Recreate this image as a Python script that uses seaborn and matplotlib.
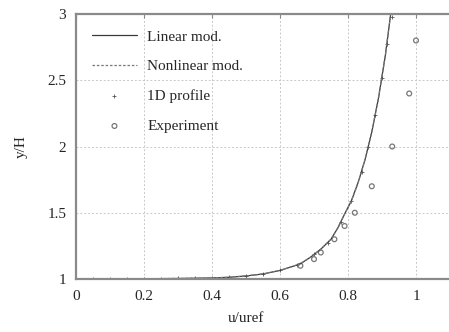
import matplotlib
matplotlib.use("Agg")
import matplotlib.pyplot as plt
import seaborn as sns
import pandas as pd

# Model velocity profile (u/uref against y/H)
model_u = [0.0, 0.1, 0.2, 0.3, 0.4, 0.45, 0.5, 0.55, 0.6, 0.63, 0.66, 0.69,
           0.72, 0.75, 0.77, 0.79, 0.81, 0.83, 0.85, 0.87, 0.89, 0.91, 0.93]
model_y = [1.0, 1.001, 1.002, 1.004, 1.008, 1.013, 1.023, 1.038, 1.065, 1.089,
           1.115, 1.165, 1.225, 1.3, 1.385, 1.49, 1.59, 1.73, 1.9, 2.11, 2.37,
           2.69, 3.09]

# 1D profile samples
prof_u = [0.0, 0.05, 0.1, 0.15, 0.2, 0.25, 0.3, 0.35, 0.4, 0.45, 0.5, 0.55,
          0.6, 0.65, 0.7, 0.74, 0.78, 0.81, 0.84, 0.86, 0.88, 0.9, 0.915, 0.928]
prof_y = [1.0, 1.0, 1.001, 1.001, 1.002, 1.003, 1.004, 1.006, 1.008, 1.013,
          1.023, 1.038, 1.065, 1.105, 1.185, 1.27, 1.43, 1.59, 1.81, 2.0,
          2.24, 2.52, 2.77, 2.98]

# Measurements
exp_u = [0.66, 0.70, 0.72, 0.76, 0.79, 0.82, 0.87, 0.93, 0.98, 1.0]
exp_y = [1.1, 1.15, 1.2, 1.3, 1.4, 1.5, 1.7, 2.0, 2.4, 2.8]

x_ticks = [0, 0.2, 0.4, 0.6, 0.8, 1]
x_labels = ["0", "0.2", "0.4", "0.6", "0.8", "1"]
y_ticks = [1, 1.5, 2, 2.5, 3]
y_labels = ["1", "1.5", "2", "2.5", "3"]

sns.set_style("white")
plt.rcParams["font.family"] = ["Liberation Serif", "DejaVu Serif"]
plt.rcParams["font.size"] = 11

model = pd.DataFrame({"u": model_u, "y": model_y})
prof = pd.DataFrame({"u": prof_u, "y": prof_y})
meas = pd.DataFrame({"u": exp_u, "y": exp_y})

fig = plt.figure(figsize=(4.49, 3.32), dpi=100)
ax = fig.add_axes([76 / 449, 1 - 279 / 332, 374 / 449, 265 / 332])

sns.lineplot(data=model, x="u", y="y", ax=ax, color="#3a3a3a", lw=0.9,
             sort=False, estimator=None, label="Linear mod.")
sns.lineplot(data=model, x="u", y="y", ax=ax, color="#777777", lw=0.9,
             sort=False, estimator=None, dashes=False, label="Nonlinear mod.")
ax.lines[-1].set_linestyle((0, (2, 1.5)))
sns.scatterplot(data=prof, x="u", y="y", ax=ax, marker="+", s=6,
                color="#555555", linewidth=0.6, label="1D profile")
sns.scatterplot(data=meas, x="u", y="y", ax=ax, marker="o", s=12,
                facecolor="none", edgecolor="#777777", linewidth=0.9,
                label="Experiment")

ax.set_xlim(0, 1.1)
ax.set_ylim(1, 3)
ax.set_xticks(x_ticks)
ax.set_xticklabels(x_labels)
ax.set_yticks(y_ticks)
ax.set_yticklabels(y_labels)
ax.tick_params(direction="in", length=3, width=0.8, color="#888888",
               labelsize=11, top=True)
ax.tick_params(axis="x", pad=8)
ax.tick_params(axis="y", pad=7)
ax.grid(True, color="#c8c8c8", linestyle=(0, (2, 2)), linewidth=0.7)

for side in ["left", "bottom", "top"]:
    ax.spines[side].set_color("#8a8a8a")
    ax.spines[side].set_linewidth(1.6)
ax.spines["right"].set_visible(False)

ax.set_xlabel("u/uref", fontsize=11)
ax.set_ylabel("y/H", fontsize=11)
ax.xaxis.set_label_coords(0.5 / 1.1, -0.125)
ax.yaxis.set_label_coords(-0.13, 0.5)

leg = ax.legend(loc="upper left", bbox_to_anchor=(0.015, 0.98), frameon=False,
                handlelength=2.9, handletextpad=0.7, labelspacing=1.05,
                fontsize=11, borderaxespad=0.3)

fig.savefig("out.png", dpi=100)
